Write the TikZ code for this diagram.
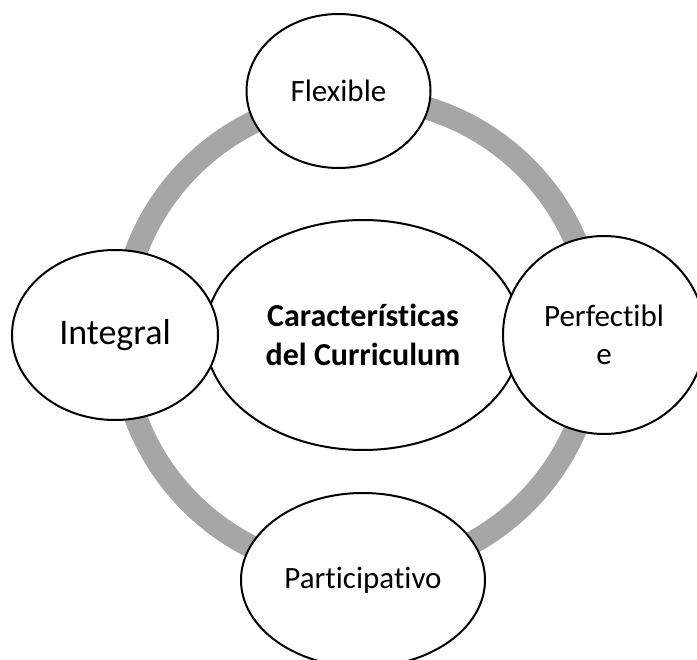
\documentclass[tikz,border=0pt]{standalone}
\usepackage{fontspec}
\setmainfont{Carlito}[Ligatures=NoCommon]
\usetikzlibrary{shapes.geometric}
\definecolor{ringgray}{HTML}{A6A6A6}

\begin{document}
\begin{tikzpicture}[x=1pt,y=-1pt,
    petal/.style={draw=black, line width=2pt, fill=white, ellipse, inner sep=0pt,
                  align=center, font=\fontsize{31}{37.8}\selectfont},
    cycle ring/.style={draw=ringgray, line width=23pt}]
    \useasboundingbox (0,0) rectangle (697,660);
    \begin{scope}
      \clip (0,0) rectangle (697,660);
      \draw[cycle ring] (358,335) circle[radius=237pt];
      \node[petal, minimum width=316pt, minimum height=230pt,
            font=\fontsize{32}{39}\selectfont\bfseries] at (363,335) (core) {Características\\del Curriculum};
      \node[petal, minimum width=184pt, minimum height=154pt] at (338.5,91) (flex) {Flexible};
      \node[petal, minimum width=206pt, minimum height=170pt,
            font=\fontsize{36}{44}\selectfont] at (115,335) (integ) {Integral};
      \node[petal, minimum width=202pt, minimum height=198pt] at (604,335) (perf) {Perfectibl\\e};
      \node[petal, minimum width=244pt, minimum height=174pt] at (363,580) (partic) {Participativo};
    \end{scope}
\end{tikzpicture}
\end{document}
